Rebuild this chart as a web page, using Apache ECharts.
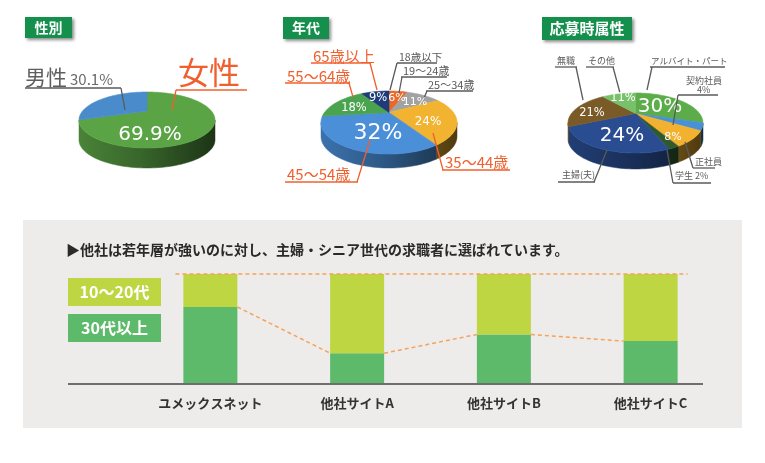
<!DOCTYPE html>
<html><head><meta charset="utf-8">
<script src="https://cdn.jsdelivr.net/npm/echarts@6/dist/echarts.min.js"></script>
<style>html,body{margin:0;padding:0;background:#fff}#c{width:765px;height:463px}</style>
</head><body><div id="c"></div>
<script>
// ---------------- data ----------------
const genderNames = ['女性', '男性'];
const genderValues = [69.9, 30.1];
const ageNames = ['18歳以下', '19～24歳', '25～34歳', '35～44歳', '45～54歳', '55～64歳', '65歳以上'];
const ageValues = [0, 6, 11, 24, 32, 18, 9];
const attrNames = ['アルバイト・パート', '契約社員', '正社員', '学生', '主婦(夫)', '無職', 'その他'];
const attrValues = [30, 4, 8, 2, 24, 21, 11];
const siteCategories = ['ユメックスネット', '他社サイトA', '他社サイトB', '他社サイトC'];
const youngShare = [30, 72, 55, 61];   // 10～20代
const seniorShare = [70, 28, 45, 39];  // 30代以上
const legendNames = ['10～20代', '30代以上'];
const pieTitles = ['性別', '年代', '応募時属性'];
const headline = '▶他社は若年層が強いのに対し、主婦・シニア世代の求職者に選ばれています。';

// ---------------- styles / layout ----------------
const FONT = '"Noto Sans CJK JP", "Noto Sans", sans-serif';
const ORANGE = '#f0602e', GRAY = '#5a5a5a';
const pieGeom = {
  gender: { L: 79, R: 215, T: 92, B: 148, t: 20, colors: ['#5ba446', '#4a8bcb'] },
  age: { L: 321, R: 457, T: 91, B: 154, t: 14, colors: ['#888888', '#e8692c', '#a2a2a2', '#f2b430', '#4a8fd8', '#4aa34e', '#1f3b7a'] },
  attr: { L: 568, R: 703, T: 93, B: 153, t: 16, colors: ['#5cad4a', '#4a90d4', '#f2b230', '#2f5a2e', '#2a4d92', '#7a5a26', '#78c06a'] }
};
// label layout per slice: name position, underline, leader end, percent label position
const genderLabels = [
  { nx: 178, ny: 72, nfs: 31, ncol: ORANGE, ul: [176, 247, 90], lc: ORANGE, from: 176, to: [172, 110], px: 150, py: 135, pfs: 20 },
  { nx: 25, ny: 77, nfs: 21, ncol: '#5e5e5e', ul: [25, 121, 88], lc: GRAY, from: 121, to: [125, 110], extra: { x: 70, y: 79, fs: 15, col: '#6a6a6a' } }
];
const ageLabels = [
  { nx: 399, ny: 57, nfs: 10.5, ncol: GRAY, ul: [397, 437, 63], lc: GRAY, from: 397, to: [390, 90] },
  { nx: 403, ny: 71, nfs: 11, ncol: GRAY, ul: [401, 447, 77], lc: GRAY, from: 402, to: [399, 93], px: 397, py: 98, pfs: 11 },
  { nx: 428, ny: 85, nfs: 11, ncol: GRAY, ul: [426, 473, 91], lc: GRAY, from: 427, to: [424, 98], px: 415, py: 102, pfs: 11 },
  { nx: 445, ny: 162, nfs: 15, ncol: ORANGE, ul: [442, 510, 170], lc: ORANGE, from: 443, to: [433, 133], px: 428, py: 122, pfs: 12 },
  { nx: 287, ny: 174, nfs: 15, ncol: ORANGE, ul: [285, 358, 182], lc: ORANGE, from: 357, to: [370, 140], px: 378, py: 133, pfs: 22 },
  { nx: 287, ny: 76, nfs: 15, ncol: ORANGE, ul: [285, 350, 83], lc: ORANGE, from: 349, to: [353, 97], px: 354, py: 108, pfs: 11.5 },
  { nx: 313, ny: 56, nfs: 15, ncol: ORANGE, ul: [311, 371, 63], lc: ORANGE, from: 370, to: [377, 90], px: 378, py: 98, pfs: 11.5 }
];
const attrLabels = [
  { nx: 651, ny: 61, nfs: 8.5, ncol: GRAY, ul: [650, 725, 67], lc: GRAY, from: 652, to: [647, 90], px: 660, py: 107, pfs: 20 },
  { nx: 686, ny: 81, nfs: 9, ncol: GRAY, ul: [678, 718, 95], lc: GRAY, from: 678, to: [673, 125], extra: { x: 697, y: 90, fs: 9, col: GRAY, pct: true } },
  { nx: 695, ny: 162, nfs: 9, ncol: GRAY, ul: [693, 715, 168], lc: GRAY, from: 693, to: [685, 142], px: 673, py: 137, pfs: 11 },
  { nx: 675, ny: 176, nfs: 9, ncol: GRAY, ul: [673, 711, 183], lc: GRAY, from: 673, to: [667, 150], withPct: true },
  { nx: 562, ny: 175, nfs: 9, ncol: GRAY, ul: [558, 595, 182], lc: GRAY, from: 594, to: [607, 150], px: 622, py: 136, pfs: 20 },
  { nx: 557, ny: 61, nfs: 9, ncol: GRAY, ul: [555, 577, 67], lc: GRAY, from: 576, to: [583, 100], px: 592, py: 113, pfs: 11.5 },
  { nx: 588, ny: 61, nfs: 9, ncol: GRAY, ul: [586, 614, 67], lc: GRAY, from: 613, to: [620, 93], px: 623, py: 98, pfs: 11.5 }
];

// ---------------- perspective pie helpers ----------------
const P = 0.32;
const XMAX = 1 / Math.sqrt(1 - P * P), YTOP = -1 / (1 + P), YBOT = 1 / (1 - P);
const TH_A = Math.acos(-P) * 180 / Math.PI;
function proj(g, deg, r) {
  const th = deg * Math.PI / 180;
  const u = r * Math.sin(th), v = -r * Math.cos(th);
  const Z = 1 - v * P;
  const xp = u / Z, yp = v / Z;
  const cx = (g.L + g.R) / 2, rx = (g.R - g.L) / 2;
  return [cx + xp * rx / XMAX, g.T + (yp - YTOP) * (g.B - g.T) / (YBOT - YTOP)];
}
function shade(hex, f) {
  const n = parseInt(hex.slice(1), 16);
  const r = Math.round(((n >> 16) & 255) * f), gg = Math.round(((n >> 8) & 255) * f), b = Math.round((n & 255) * f);
  return 'rgb(' + r + ',' + gg + ',' + b + ')';
}
function pieSeries(g, names, values, labels) {
  const total = values.reduce((a, b) => a + b, 0);
  const starts = []; let acc = 0;
  values.forEach(v => { starts.push(acc / total * 360); acc += v; });
  return {
    type: 'custom', coordinateSystem: 'none', silent: true,
    data: values.map((v, i) => [i, v]),
    renderItem: function (params, api) {
      const i = params.dataIndex;
      const a0 = starts[i], a1 = a0 + values[i] / total * 360;
      const col = g.colors[i];
      const ch = [];
      if (a1 > a0) {
        const pts = [proj(g, 0, 0)];
        const n = Math.max(2, Math.ceil((a1 - a0) / 2));
        for (let k = 0; k <= n; k++) pts.push(proj(g, a0 + (a1 - a0) * k / n, 1));
        ch.push({ type: 'polygon', shape: { points: pts }, style: { fill: col, stroke: col, lineWidth: 0.6 }, z2: 10 });
        const s = Math.max(a0, TH_A), e = Math.min(a1, 360 - TH_A);
        if (e > s) {
          const top = [], m = Math.max(2, Math.ceil((e - s) / 2));
          for (let k = 0; k <= m; k++) top.push(proj(g, s + (e - s) * k / m, 1));
          const bot = top.map(p => [p[0], p[1] + g.t]).reverse();
          const grad = new echarts.graphic.LinearGradient(g.L, 0, g.R, 0, [
            { offset: 0, color: shade(col, 0.8) }, { offset: 0.45, color: shade(col, 0.62) }, { offset: 1, color: shade(col, 0.32) }
          ], true);
          ch.push({ type: 'polygon', shape: { points: top.concat(bot) }, style: { fill: grad, stroke: grad, lineWidth: 0.5 }, z2: 1 });
        }
      }
      const lab = labels[i];
      if (lab) {
        let txt = names[i];
        if (lab.withPct) txt += ' ' + values[i] + '%';
        ch.push({ type: 'text', x: lab.nx, y: lab.ny, z2: 30,
          style: { text: txt, fontSize: lab.nfs, fontFamily: FONT, fill: lab.ncol, align: 'left', verticalAlign: 'middle' } });
        if (lab.extra) {
          ch.push({ type: 'text', x: lab.extra.x, y: lab.extra.y, z2: 30,
            style: { text: values[i] + '%', fontSize: lab.extra.fs, fontFamily: FONT, fill: lab.extra.col, align: 'left', verticalAlign: 'middle' } });
        }
        ch.push({ type: 'line', z2: 30, shape: { x1: lab.ul[0], y1: lab.ul[2], x2: lab.ul[1], y2: lab.ul[2] }, style: { stroke: lab.lc, lineWidth: 1.3 } });
        ch.push({ type: 'line', z2: 30, shape: { x1: lab.from, y1: lab.ul[2], x2: lab.to[0], y2: lab.to[1] }, style: { stroke: lab.lc, lineWidth: 1.3 } });
        if (lab.px !== undefined) {
          ch.push({ type: 'text', x: lab.px, y: lab.py, z2: 30,
            style: { text: values[i] + '%', fontSize: lab.pfs, fontFamily: '"DejaVu Sans", sans-serif', fill: '#fff', align: 'center', verticalAlign: 'middle' } });
        }
      }
      return { type: 'group', children: ch };
    }
  };
}

// ---------------- chart ----------------
const chart = echarts.init(document.getElementById('c'), null, { renderer: 'canvas' });
const BAR_W = 54;
const totals = seniorShare.map((v, i) => v + youngShare[i]);

function titleBox(x, y, w, h, text, fs) {
  return { type: 'group', x: x, y: y, z: 5, children: [
    { type: 'rect', shape: { x: 0, y: 0, width: w, height: h }, style: { fill: '#14904c', shadowBlur: 3, shadowColor: 'rgba(0,0,0,0.45)', shadowOffsetX: 2, shadowOffsetY: 2 } },
    { type: 'text', x: w / 2, y: h / 2, style: { text: text, fontSize: fs, fontWeight: 'bold', fontFamily: FONT, fill: '#fff', align: 'center', verticalAlign: 'middle' } }
  ] };
}
function legendBox(y, text, color) {
  return { type: 'group', x: 68, y: y, z: 5, children: [
    { type: 'rect', shape: { x: 0, y: 0, width: 93, height: 28 }, style: { fill: color } },
    { type: 'text', x: 46.5, y: 14, style: { text: text, fontSize: 16, fontWeight: 'bold', fontFamily: FONT, fill: '#fff', align: 'center', verticalAlign: 'middle' } }
  ] };
}

chart.setOption({
  animation: false,
  backgroundColor: '#ffffff',
  graphic: [
    { type: 'rect', z: -10, shape: { x: 23, y: 220, width: 719, height: 208 }, style: { fill: '#eeecea' } },
    { type: 'text', x: 66, y: 250, z: 5, style: { text: headline, fontSize: 14, fontWeight: 'bold', fontFamily: FONT, fill: '#2a2a2a', verticalAlign: 'middle' } },
    legendBox(278, legendNames[0], '#bed642'),
    legendBox(314, legendNames[1], '#5cba6a'),
    { type: 'line', z: 100, shape: { x1: 68, y1: 384, x2: 703, y2: 384 }, style: { stroke: '#6e6e6e', lineWidth: 2 } },
    titleBox(25, 17, 47, 21, pieTitles[0], 14),
    titleBox(283, 17, 46, 22, pieTitles[1], 14),
    titleBox(542, 17, 90, 23, pieTitles[2], 15)
  ],
  grid: { left: 137, width: 587, top: 274, height: 110, containLabel: false },
  xAxis: {
    type: 'category', data: siteCategories,
    axisLine: { show: false }, axisTick: { show: false },
    axisLabel: { fontSize: 13, fontWeight: 'bold', color: '#333', fontFamily: FONT, margin: 13 }
  },
  yAxis: { type: 'value', min: 0, max: 100, show: false },
  series: [
    { type: 'bar', name: legendNames[1], stack: 's', data: seniorShare, barWidth: BAR_W, itemStyle: { color: '#5cba6a' }, silent: true },
    { type: 'bar', name: legendNames[0], stack: 's', data: youngShare, barWidth: BAR_W, itemStyle: { color: '#bed642' }, silent: true },
    {
      type: 'custom', coordinateSystem: 'cartesian2d', silent: true, z: 5,
      data: seniorShare.map((v, i) => [i, v]), encode: { x: 0, y: 1 },
      renderItem: function (params, api) {
        const i = params.dataIndex, n = seniorShare.length, half = BAR_W / 2;
        const ch = [];
        const ls = { stroke: '#f5a35c', lineWidth: 1.5, lineDash: [4, 3] };
        if (i < n - 1) {
          const p1 = api.coord([i, seniorShare[i]]), p2 = api.coord([i + 1, seniorShare[i + 1]]);
          ch.push({ type: 'line', shape: { x1: p1[0] + half, y1: p1[1], x2: p2[0] - half, y2: p2[1] }, style: ls });
        }
        if (i === 0) {
          const q1 = api.coord([0, totals[0]]), q2 = api.coord([n - 1, totals[n - 1]]);
          ch.push({ type: 'line', shape: { x1: q1[0] - half - 8, y1: q1[1], x2: q2[0] + half + 10, y2: q2[1] }, style: ls });
        }
        return { type: 'group', children: ch };
      }
    },
    pieSeries(pieGeom.gender, genderNames, genderValues, genderLabels),
    pieSeries(pieGeom.age, ageNames, ageValues, ageLabels),
    pieSeries(pieGeom.attr, attrNames, attrValues, attrLabels)
  ]
});
</script></body></html>
